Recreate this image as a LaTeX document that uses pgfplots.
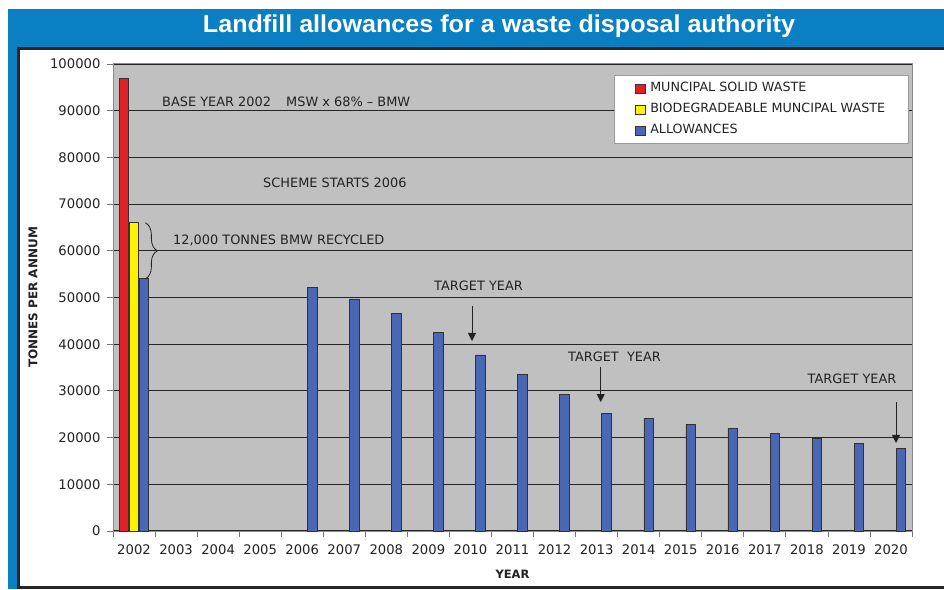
\documentclass[border=0pt]{standalone}
\usepackage{pgfplots}
\pgfplotsset{compat=1.18}
\usepackage{fontspec}
\usepackage{graphicx}
\setmainfont{DejaVu Sans}
\newfontfamily\titlefont{Liberation Sans}
\usetikzlibrary{arrows.meta,decorations.pathreplacing}
\definecolor{bannerblue}{HTML}{0A7FC4}
\definecolor{plotgray}{HTML}{C0C0C0}
\definecolor{mswred}{HTML}{E21E26}
\definecolor{bmwyellow}{HTML}{FFF200}
\definecolor{allowblue}{HTML}{4A67B5}
\definecolor{frameclr}{HTML}{262626}
\definecolor{txt}{HTML}{222222}
\newcommand\annot{\fontsize{12.9}{15}\selectfont}
\begin{document}
\begin{tikzpicture}[x=1pt,y=1pt]
\path[use as bounding box] (0,0) rectangle (944,589);
\fill[white] (0,0) rectangle (944,589);
\fill[bannerblue] (8,542) rectangle (944,580);
\fill[bannerblue] (8,0) rectangle (17.5,542);
\draw[frameclr, line width=3pt] (946,540.5) -- (18.5,540.5) -- (18.5,2) -- (946,2);
\node[anchor=base, text=white, inner sep=0] at (499,556.3)
  {\resizebox{592pt}{17.7pt}{\titlefont\bfseries Landfill allowances for a waste disposal authority}};
\begin{axis}[
  at={(113pt,58pt)}, anchor=south west, scale only axis,
  width=799pt, height=467pt,
  ybar=0.4pt, bar width=9.6pt,
  xmin=-0.5, xmax=18.5, ymin=0, ymax=100000,
  xtick={-0.5,0.5,...,18.5}, x tick label as interval,
  xticklabels={2002,2003,2004,2005,2006,2007,2008,2009,2010,2011,2012,2013,2014,2015,2016,2017,2018,2019,2020},
  ytick={0,10000,...,100000},
  scaled y ticks=false,
  yticklabel={\pgfmathprintnumber[fixed,precision=0,1000 sep={},assume math mode=true]{\tick}},
  ymajorgrids, grid style={black!85, line width=1.1pt},
  axis background/.style={fill=plotgray},
  axis line style={draw=black!45, line width=1pt},
  tick style={draw=black!55, line width=0.8pt},
  major tick length=6pt, tick align=outside,
  xtick pos=left, ytick pos=left,
  every tick label/.append style={font=\fontsize{13.2}{15}\selectfont, text=txt},
  xticklabel style={yshift=-4pt},
  yticklabel style={xshift=-3pt},
  xlabel={YEAR}, ylabel={TONNES PER ANNUM},
  every axis x label/.style={at={(axis description cs:0.5,-0.092)}, anchor=center, font=\bfseries\fontsize{11.5}{13}\selectfont, text=txt},
  every axis y label/.style={at={(axis description cs:-0.1001,0.5)}, rotate=90, anchor=center, font=\bfseries\fontsize{12}{14}\selectfont, text=txt},
  legend style={at={(axis description cs:0.6270,0.9764)}, anchor=north west, fill=white, draw=black!40, line width=0.8pt,
    font=\fontsize{12.7}{14}\selectfont, text=txt, inner xsep=21pt, inner ysep=5pt, row sep=5pt,
    nodes={inner sep=2pt, text height=9.3pt, text depth=2.7pt},
    /tikz/every odd column/.append style={column sep=3pt}},
  legend cell align=left,
  legend image code/.code={\draw[#1, line width=0.4pt] (0pt,-4.5pt) rectangle (9.5pt,4.5pt);},
  clip=false,
]
\addplot[fill=mswred, draw=black!80, line width=0.7pt] coordinates {(0,97000)};
\addplot[fill=bmwyellow, draw=black!80, line width=0.7pt] coordinates {(0,66000)};
\addplot[fill=allowblue, draw=black!80, line width=0.7pt] coordinates {
(0,54000) (4,52200) (5,49700) (6,46500) (7,42500) (8,37700) (9,33500) (10,29300)
(11,25200) (12,24100) (13,22900) (14,22000) (15,20900) (16,19800) (17,18800) (18,17700)};
\legend{MUNCIPAL SOLID WASTE, BIODEGRADEABLE MUNCIPAL WASTE, ALLOWANCES}
\node[anchor=base west, inner sep=0, font=\annot, text=txt] at (axis cs:0.665,90857) {BASE YEAR 2002};
\node[anchor=base west, inner sep=0, font=\annot, text=txt] at (axis cs:3.614,90857) {MSW x 68\% – BMW};
\node[anchor=base west, inner sep=0, font=\annot, text=txt] at (axis cs:3.067,73512) {SCHEME STARTS 2006};
\node[anchor=base west, inner sep=0, font=\annot, text=txt] at (axis cs:0.927,61306) {12,000 TONNES BMW RECYCLED};
\node[anchor=base, inner sep=0, font=\annot, text=txt] at (axis cs:8.192,51456) {TARGET YEAR};
\node[anchor=base, inner sep=0, font=\annot, text=txt] at (axis cs:11.426,36253) {TARGET\ \ YEAR};
\node[anchor=base, inner sep=0, font=\annot, text=txt] at (axis cs:17.074,31542) {TARGET YEAR};
\draw[txt, line width=0.9pt, -{Triangle[width=8pt,length=8pt]}] (axis cs:8.037,48180) -- (axis cs:8.037,40685);
\draw[txt, line width=0.9pt, -{Triangle[width=8pt,length=8pt]}] (axis cs:11.098,35118) -- (axis cs:11.098,27623);
\draw[txt, line width=0.9pt, -{Triangle[width=8pt,length=8pt]}] (axis cs:18.12,27623) -- (axis cs:18.12,18844);
\draw[txt, line width=0.8pt, decorate, decoration={brace, amplitude=12pt}] (axis cs:0.27,66000) -- (axis cs:0.27,54000);
\end{axis}
\end{tikzpicture}
\end{document}
